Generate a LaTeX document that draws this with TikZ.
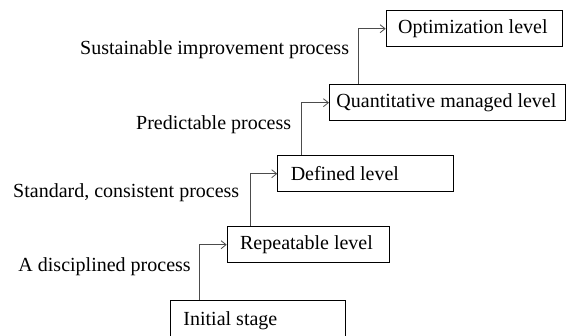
\documentclass[tikz,border=0pt]{standalone}
\usepackage{fontspec}
\setmainfont{Liberation Serif}
\usetikzlibrary{arrows.meta}

% text of a level, left aligned in a box of given width
\newcommand{\lvltext}[2]{\makebox[#1][l]{#2}}

\tikzset{
  level/.style={draw, line width=0.9pt, minimum height=36.5pt,
    inner xsep=13pt, anchor=north west},
  proc/.style={anchor=base west, inner sep=0pt},
  link/.style={draw=black!70, line width=0.8pt,
    -{Straight Barb[length=5pt,width=8pt]}}
}

\begin{document}
\begin{tikzpicture}[x=1pt, y=-1pt, font=\fontsize{20}{24}\selectfont]
        % frame of the picture
        \useasboundingbox (0,0) rectangle (566,336);
        \clip (0,0) rectangle (566,336);

        % the levels
        \node[level, minimum height=40pt] (init) at (170,300) {\lvltext{149pt}{Initial stage}};
        \node[level] (rep) at (226.7,226) {\lvltext{136pt}{Repeatable level}};
        \node[level] (def) at (277.3,155) {\lvltext{150pt}{Defined level}};
        \node[level, inner xsep=7pt] (quant) at (329,84) {\lvltext{222pt}{Quantitative managed level}};
        \node[level, inner xsep=12pt] (opt) at (385.7,10) {\lvltext{152pt}{Optimization level}};

        % steps between levels
        \draw[link] ([xshift=29.3pt]init.north west) |- (rep.west);
        \draw[link] ([xshift=23.3pt]rep.north west) |- (def.west);
        \draw[link] ([xshift=24.4pt]def.north west) |- (quant.west);
        \draw[link] ([xshift=29.3pt]quant.north west) |- (opt.west);

        % what each step brings
        \node[proc] (ldisc) at (18.3,271.7) {A disciplined process};
        \node[proc] (lstd) at (13,197.3) {Standard, consistent process};
        \node[proc] (lpred) at (136,129.3) {Predictable process};
        \node[proc] (lsust) at (80,55) {Sustainable improvement process};
    \end{tikzpicture}
\end{document}
